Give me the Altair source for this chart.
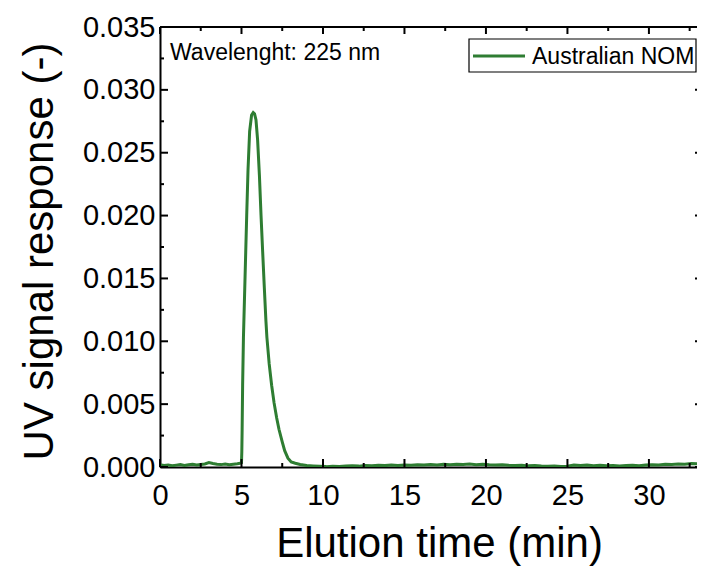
import altair as alt
import pandas as pd

# ---- data ----
peak_t = [4.9, 5.0, 5.02, 5.04, 5.07, 5.12, 5.2, 5.26, 5.32, 5.4, 5.5, 5.62, 5.72, 5.8, 5.89,
          5.99, 6.1, 6.2, 6.3, 6.4, 6.5, 6.56, 6.7, 6.85, 7.0, 7.16, 7.3, 7.5, 7.65, 7.85, 8.05, 8.3]
peak_v = [0.00030, 0.00035, 0.0012, 0.0030, 0.0065, 0.0103, 0.0142, 0.0171, 0.0200, 0.0236, 0.0267,
          0.0280, 0.0282, 0.0281, 0.0276, 0.0260, 0.0232, 0.0200, 0.0171, 0.0143, 0.0116, 0.0103,
          0.0082, 0.0065, 0.0051, 0.0039, 0.0030, 0.0020, 0.0013, 0.0007, 0.0004, 0.0003]

pre_t = [0.0, 0.25, 0.5, 0.75, 1.0, 1.25, 1.5, 1.75, 2.0, 2.25, 2.5, 2.75, 3.0, 3.25, 3.5,
         3.75, 4.0, 4.25, 4.5, 4.75]
pre_v = [0.00018, 0.00012, 0.00016, 0.00010, 0.00015, 0.00019, 0.00013, 0.00017, 0.00021, 0.00016,
         0.00020, 0.00024, 0.00035, 0.00028, 0.00022, 0.00019, 0.00024, 0.00018, 0.00022, 0.00026]

post_t = [8.6, 9.0, 9.4, 9.8, 10.2, 10.6, 11.0, 11.4, 11.8, 12.2, 12.6, 13.0, 13.4, 13.8, 14.2,
          14.6, 15.0, 15.4, 15.8, 16.2, 16.6, 17.0, 17.4, 17.8, 18.2, 18.6, 19.0, 19.4, 19.8, 20.2,
          20.6, 21.0, 21.4, 21.8, 22.2, 22.6, 23.0, 23.4, 23.8, 24.2, 24.6, 25.0, 25.4, 25.8, 26.2,
          26.6, 27.0, 27.4, 27.8, 28.2, 28.6, 29.0, 29.4, 29.8, 30.2, 30.6, 31.0, 31.4, 31.8, 32.2,
          32.6, 33.0, 33.4]
post_v = [0.00020, 0.00012, 0.00008, 0.00005, 0.00003, 0.00006, 0.00004, 0.00008, 0.00010, 0.00007,
          0.00012, 0.00010, 0.00014, 0.00011, 0.00015, 0.00012, 0.00016, 0.00013, 0.00017, 0.00015,
          0.00019, 0.00016, 0.00021, 0.00018, 0.00022, 0.00019, 0.00023, 0.00018, 0.00021, 0.00017,
          0.00015, 0.00018, 0.00013, 0.00011, 0.00014, 0.00009, 0.00011, 0.00007, 0.00005, 0.00008,
          0.00004, 0.00006, 0.00016, 0.00012, 0.00015, 0.00010, 0.00013, 0.00009, 0.00012, 0.00008,
          0.00011, 0.00014, 0.00010, 0.00015, 0.00018, 0.00016, 0.00021, 0.00019, 0.00024, 0.00022,
          0.00027, 0.00025, 0.00028]

series_name = "Australian NOM"
annotation = "Wavelenght: 225 nm"
x_title = "Elution time (min)"
y_title = "UV signal response (-)"

x_major = [0, 5, 10, 15, 20, 25, 30]
x_minor = [2.5, 7.5, 12.5, 17.5, 22.5, 27.5, 32.5]
y_major = [0.0, 0.005, 0.010, 0.015, 0.020, 0.025, 0.030, 0.035]
y_minor = [0.0025, 0.0075, 0.0125, 0.0175, 0.0225, 0.0275, 0.0325]

# ---- build tables ----
t_all = pre_t + peak_t + post_t
v_all = pre_v + peak_v + post_v
df = pd.DataFrame({"t": t_all, "v": v_all, "series": series_name})

W, H = 537, 440
FONT = "Liberation Sans"
GREEN = "#2e7d32"

xscale = alt.Scale(domain=[0, 32.95], nice=False, zero=False)
yscale = alt.Scale(domain=[0, 0.035], nice=False)

x_axis = alt.Axis(values=x_major, title=x_title, ticks=False, grid=False, labels=True,
                  domain=True, domainColor="black", domainWidth=2, labelFontSize=29,
                  labelFont=FONT, labelColor="black", labelPadding=14, labelFlush=False,
                  titleFontSize=42, titleFont=FONT, titleFontWeight="normal",
                  titleColor="black", titleX=279, titleY=89,
                  titleBaseline="alphabetic", titleAlign="center")
y_axis = alt.Axis(values=y_major, format=".3f", title=y_title, ticks=False, grid=False,
                  labels=True, domain=True, domainColor="black", domainWidth=2,
                  labelFontSize=29, labelFont=FONT, labelColor="black", labelPadding=5,
                  labelFlush=False, titleFontSize=42, titleFont=FONT,
                  titleFontWeight="normal", titleColor="black", titleX=-108, titleY=224,
                  titleAngle=270, titleBaseline="alphabetic", titleAlign="center")

line = alt.Chart(df).mark_line(strokeWidth=3, clip=True).encode(
    x=alt.X("t:Q", scale=xscale, axis=x_axis),
    y=alt.Y("v:Q", scale=yscale, axis=y_axis),
    color=alt.Color("series:N", scale=alt.Scale(range=[GREEN]), legend=None),
)

def xticks(vals, y0, y1):
    return alt.Chart(pd.DataFrame({"t": vals})).mark_rule(color="black", strokeWidth=2).encode(
        x=alt.X("t:Q", scale=xscale, axis=x_axis), y=alt.value(y0), y2=alt.value(y1))

def yticks(vals, x0, x1):
    return alt.Chart(pd.DataFrame({"v": vals})).mark_rule(color="black", strokeWidth=2).encode(
        y=alt.Y("v:Q", scale=yscale, axis=y_axis), x=alt.value(x0), x2=alt.value(x1))

one = pd.DataFrame({"series": [series_name]})

top_border = alt.Chart(one).mark_rule(color="black", strokeWidth=2).encode(
    x=alt.value(0), x2=alt.value(W), y=alt.value(0))

note = alt.Chart(pd.DataFrame({"label": [annotation]})).mark_text(
    align="left", baseline="alphabetic", fontSize=23, font=FONT, color="black").encode(
    x=alt.value(10), y=alt.value(33), text="label:N")

# legend (drawn manually to get the long, short-height Origin style entry)
leg_box = alt.Chart(one).mark_rect(fill="white", stroke="black", strokeWidth=1.2).encode(
    x=alt.value(309), x2=alt.value(536), y=alt.value(12), y2=alt.value(45))
leg_line = alt.Chart(one).mark_rule(strokeWidth=3).encode(
    x=alt.value(313), x2=alt.value(365), y=alt.value(29),
    color=alt.Color("series:N", scale=alt.Scale(range=[GREEN]), legend=None))
leg_text = alt.Chart(one).mark_text(
    align="left", baseline="alphabetic", fontSize=23, font=FONT, color="black").encode(
    x=alt.value(372), y=alt.value(37), text="series:N")

chart = alt.layer(
    line,
    xticks(x_major, H, H - 8), xticks(x_minor, H, H - 4),
    xticks(x_major, 0, 7), xticks(x_minor, 0, 4),
    yticks(y_major, 0, 8), yticks(y_minor, 0, 4),
    yticks(y_major, W - 2, W),
    top_border, note, leg_box, leg_line, leg_text,
).properties(
    width=W, height=H,
    autosize=alt.AutoSizeParams(type="none"),
    padding={"left": 152, "top": 19, "right": 0, "bottom": 99},
    background="white",
).configure_view(stroke=None)

chart.save("out.html", embed_options={"renderer": "svg", "actions": False})
